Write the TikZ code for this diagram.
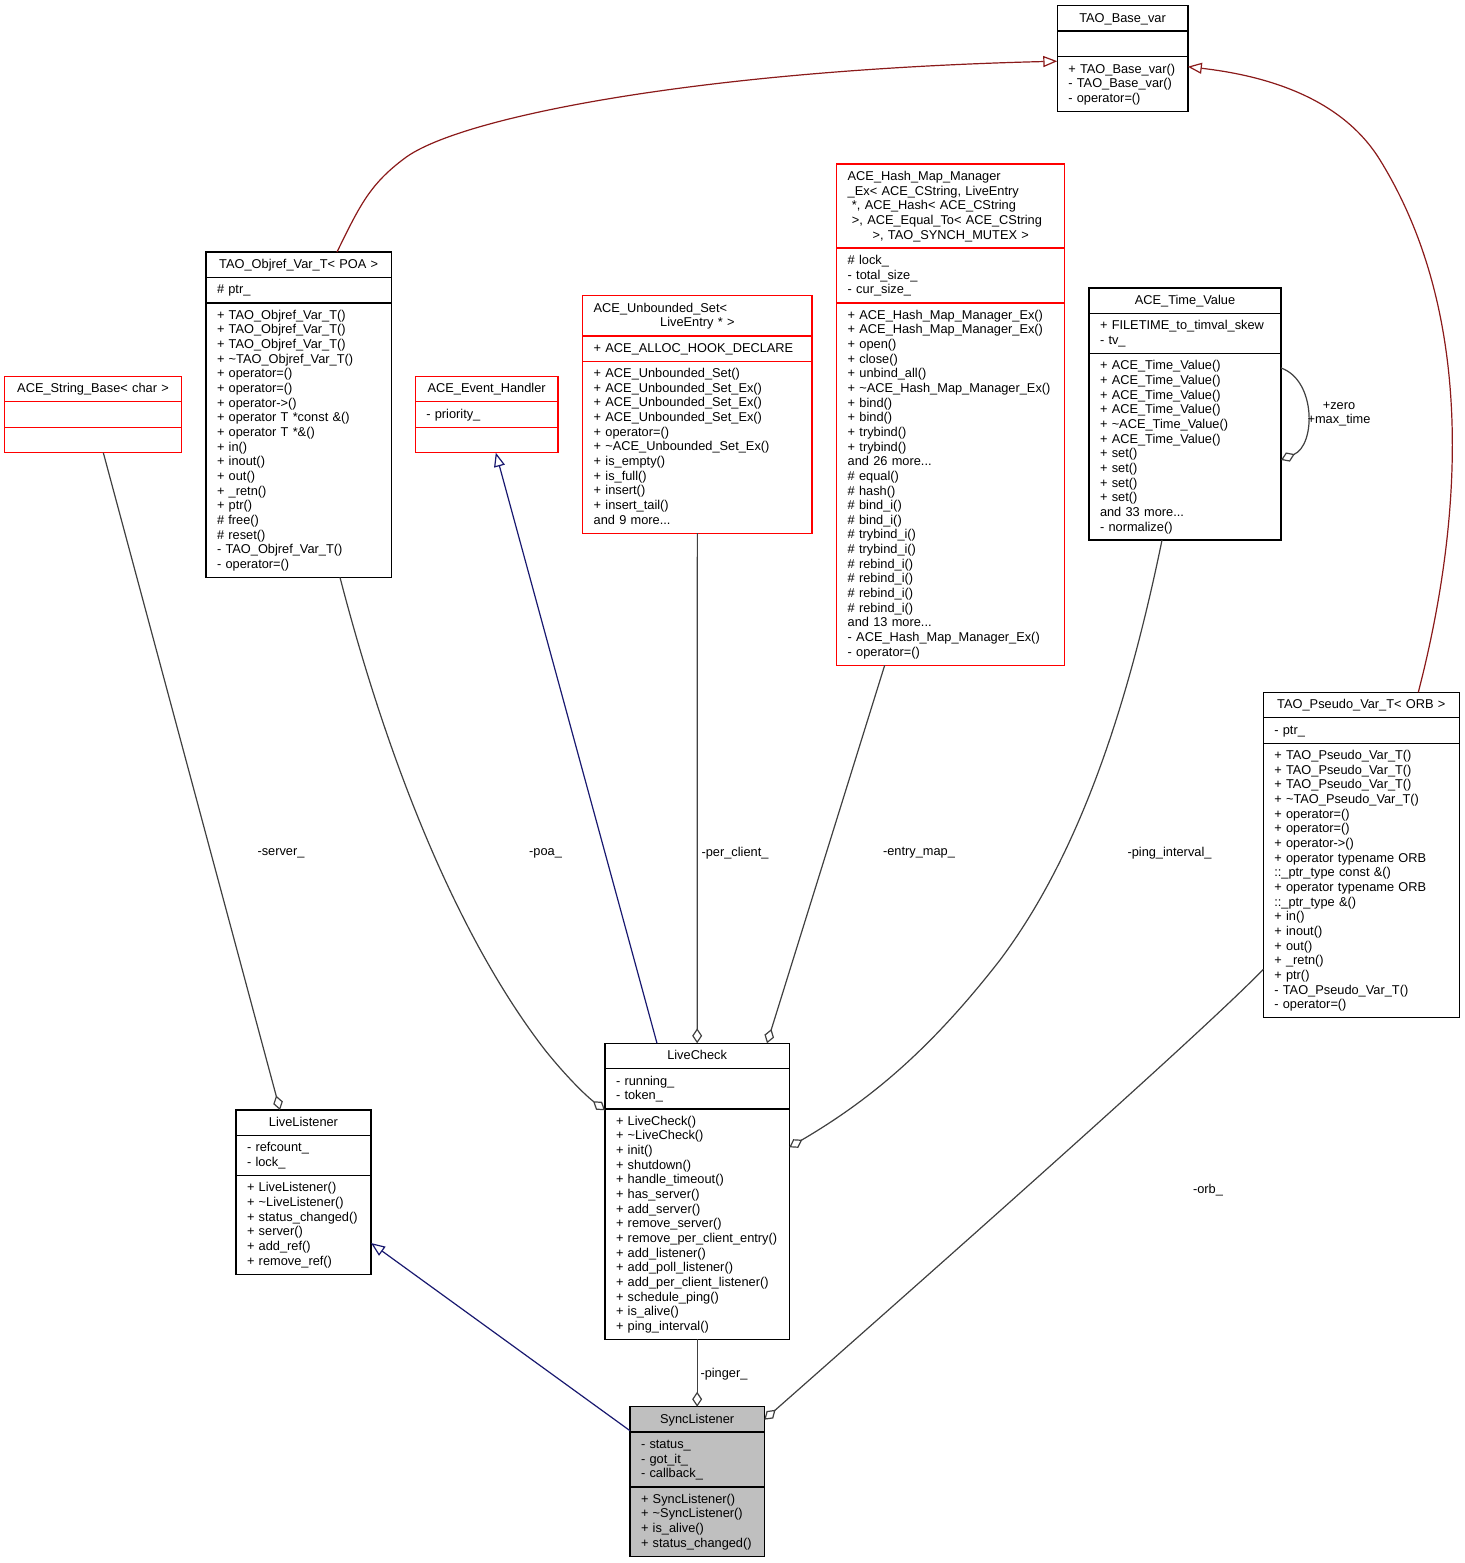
\documentclass[tikz,border=0pt]{standalone}
\usepackage{fontspec}
\setmainfont{Liberation Sans}
\usetikzlibrary{shapes.multipart,arrows.meta,calc}
\definecolor{usegrey}{HTML}{404040}
\definecolor{pubblue}{HTML}{191970}
\definecolor{privred}{HTML}{8B1A1A}
\definecolor{focusgrey}{HTML}{BFBFBF}
% text of the class boxes
\newcommand{\umlfont}{\fontsize{6.4pt}{7.325pt}\selectfont\setbox\strutbox\hbox{\vrule height5.5pt depth1.825pt width0pt}}
\newcommand{\members}[1]{\noindent\begin{tabular}{@{}l@{}}#1\end{tabular}}
\newcommand{\lline}[1]{\makebox[\hsize][l]{\strut#1}}
\newcommand{\tline}[1]{\makebox[\hsize][c]{\strut#1}}
\begin{document}
\begin{tikzpicture}[x=0.5pt,y=-0.5pt,
	umlclass/.style={rectangle split,rectangle split parts=3,draw=black,line width=0.7pt,fill=white,
		anchor=north west,inner xsep=5.5pt,inner ysep=2.35pt,outer sep=0pt,align=left,font=\umlfont},
	redclass/.style={umlclass,draw=red},
	focusclass/.style={umlclass,fill=focusgrey},
	uses/.style={draw=usegrey,line width=0.6pt,-{Diamond[fill=white,length=7.5pt,width=5pt]}},
	pubinh/.style={draw=pubblue,line width=0.6pt,-{Triangle[fill=white,length=7pt,width=5.5pt]}},
	privinh/.style={draw=privred,line width=0.6pt,-{Triangle[fill=white,length=7pt,width=5.5pt]}},
	lbl/.style={font=\umlfont,inner sep=0pt}]
	\useasboundingbox[fill=white] (0,0) rectangle (1464,1563);
	% classes
	\node[umlclass,text width=54.25pt] (base) at (1057.3,5.7) {\tline{TAO\_Base\_var}
		\nodepart{second}\strut
		\nodepart{third}\members{+ TAO\_Base\_var()\\- TAO\_Base\_var()\\- operator=()}};
	\node[umlclass,text width=81.65pt] (objref) at (206,252) {\tline{TAO\_Objref\_Var\_T< POA >}
		\nodepart{second}\members{\# ptr\_}
		\nodepart{third}\members{+ TAO\_Objref\_Var\_T()\\+ TAO\_Objref\_Var\_T()\\+ TAO\_Objref\_Var\_T()\\
			+ \textasciitilde TAO\_Objref\_Var\_T()\\+ operator=()\\+ operator=()\\+ operator->()\\
			+ operator T *const \&()\\+ operator T *\&()\\+ in()\\+ inout()\\+ out()\\+ \_retn()\\+ ptr()\\
			\# free()\\\# reset()\\- TAO\_Objref\_Var\_T()\\- operator=()}};
	\node[redclass,text width=77.7pt] (strbase) at (4.3,376.3) {\tline{ACE\_String\_Base< char >}
		\nodepart{second}\strut
		\nodepart{third}\strut};
	\node[redclass,text width=60.35pt] (evh) at (415.3,376.3) {\tline{ACE\_Event\_Handler}
		\nodepart{second}\members{- priority\_}
		\nodepart{third}\strut};
	\node[redclass,text width=103.65pt] (uset) at (582.7,295.7) {\lline{ACE\_Unbounded\_Set<}\\\tline{LiveEntry * >}
		\nodepart{second}\members{+ ACE\_ALLOC\_HOOK\_DECLARE}
		\nodepart{third}\members{+ ACE\_Unbounded\_Set()\\+ ACE\_Unbounded\_Set\_Ex()\\+ ACE\_Unbounded\_Set\_Ex()\\
			+ ACE\_Unbounded\_Set\_Ex()\\+ operator=()\\+ \textasciitilde ACE\_Unbounded\_Set\_Ex()\\+ is\_empty()\\
			+ is\_full()\\+ insert()\\+ insert\_tail()\\and 9 more...}};
	\node[redclass,text width=103pt] (hmap) at (836.7,164) {\lline{ACE\_Hash\_Map\_Manager}\\
			\lline{\_Ex< ACE\_CString, LiveEntry}\\\lline{\ *, ACE\_Hash< ACE\_CString}\\
			\lline{\ >, ACE\_Equal\_To< ACE\_CString}\\\tline{>, TAO\_SYNCH\_MUTEX >}
		\nodepart{second}\members{\# lock\_\\- total\_size\_\\- cur\_size\_}
		\nodepart{third}\members{+ ACE\_Hash\_Map\_Manager\_Ex()\\+ ACE\_Hash\_Map\_Manager\_Ex()\\+ open()\\+ close()\\
			+ unbind\_all()\\+ \textasciitilde ACE\_Hash\_Map\_Manager\_Ex()\\+ bind()\\+ bind()\\+ trybind()\\+ trybind()\\
			and 26 more...\\\# equal()\\\# hash()\\\# bind\_i()\\\# bind\_i()\\\# trybind\_i()\\\# trybind\_i()\\
			\# rebind\_i()\\\# rebind\_i()\\\# rebind\_i()\\\# rebind\_i()\\and 13 more...\\
			- ACE\_Hash\_Map\_Manager\_Ex()\\- operator=()}};
	\node[umlclass,text width=85pt] (tval) at (1089,288) {\tline{ACE\_Time\_Value}
		\nodepart{second}\members{+ FILETIME\_to\_timval\_skew\\- tv\_}
		\nodepart{third}\members{+ ACE\_Time\_Value()\\+ ACE\_Time\_Value()\\+ ACE\_Time\_Value()\\+ ACE\_Time\_Value()\\
			+ \textasciitilde ACE\_Time\_Value()\\+ ACE\_Time\_Value()\\+ set()\\+ set()\\+ set()\\+ set()\\
			and 33 more...\\- normalize()}};
	\node[umlclass,text width=87pt] (pseudo) at (1263.3,692.3) {\tline{TAO\_Pseudo\_Var\_T< ORB >}
		\nodepart{second}\members{- ptr\_}
		\nodepart{third}\members{+ TAO\_Pseudo\_Var\_T()\\+ TAO\_Pseudo\_Var\_T()\\+ TAO\_Pseudo\_Var\_T()\\
			+ \textasciitilde TAO\_Pseudo\_Var\_T()\\+ operator=()\\+ operator=()\\+ operator->()\\
			+ operator typename ORB\\::\_ptr\_type const \&()\\+ operator typename ORB\\::\_ptr\_type \&()\\
			+ in()\\+ inout()\\+ out()\\+ \_retn()\\+ ptr()\\- TAO\_Pseudo\_Var\_T()\\- operator=()}};
	\node[umlclass,text width=81.15pt] (lcheck) at (605,1043.3) {\tline{LiveCheck}
		\nodepart{second}\members{- running\_\\- token\_}
		\nodepart{third}\members{+ LiveCheck()\\+ \textasciitilde LiveCheck()\\+ init()\\+ shutdown()\\
			+ handle\_timeout()\\+ has\_server()\\+ add\_server()\\+ remove\_server()\\
			+ remove\_per\_client\_entry()\\+ add\_listener()\\+ add\_poll\_listener()\\
			+ add\_per\_client\_listener()\\+ schedule\_ping()\\+ is\_alive()\\+ ping\_interval()}};
	\node[umlclass,text width=56.5pt] (llist) at (236,1110) {\tline{LiveListener}
		\nodepart{second}\members{- refcount\_\\- lock\_}
		\nodepart{third}\members{+ LiveListener()\\+ \textasciitilde LiveListener()\\+ status\_changed()\\
			+ server()\\+ add\_ref()\\+ remove\_ref()}};
	\node[focusclass,text width=56.15pt] (sync) at (630,1406.7) {\tline{SyncListener}
		\nodepart{second}\members{- status\_\\- got\_it\_\\- callback\_}
		\nodepart{third}\members{+ SyncListener()\\+ \textasciitilde SyncListener()\\+ is\_alive()\\
			+ status\_changed()}};
	% inheritance
	\draw[privinh] ($(objref.north west)+(131,0)$) .. controls (360,205) and (370,184) .. (405,158)
		.. controls (460,117) and (700,70) .. ($(base.north west)+(0,55.5)$);
	\draw[privinh] ($(pseudo.north west)+(155,0)$) .. controls (1455,550) and (1485,330) .. (1380,160)
		.. controls (1340,95) and (1260,75) .. ($(base.north east)+(0,61)$);
	\draw[pubinh] ($(lcheck.north west)+(52,0)$) -- ($(evh.south west)+(80.5,0)$);
	\draw[pubinh] ($(sync.north west)+(0,24)$) -- ($(llist.north east)+(0,133)$);
	% members
	\draw[uses] ($(strbase.south west)+(99,0)$) -- ($(llist.north west)+(44,0)$);
	\draw[uses] ($(objref.south west)+(134,0)$) .. controls (390,770) and (460,940) .. (545,1050)
		.. controls (565,1075) and (585,1095) .. ($(lcheck.north west)+(0,67)$);
	\draw[uses] (uset.south) -- (lcheck.north);
	\draw[uses] ($(hmap.south west)+(48,0)$) -- ($(lcheck.north west)+(162,0)$);
	\draw[uses] ($(tval.south west)+(73,0)$) .. controls (1125,720) and (1075,860) .. (1000,960)
		.. controls (930,1050) and (870,1100) .. ($(lcheck.north east)+(0,104)$);
	\draw[uses] ($(tval.north east)+(0,80)$) .. controls (1316,380) and (1316,445) .. ($(tval.north east)+(0,172)$);
	\draw[uses] (lcheck.south) -- (sync.north);
	\draw[uses] ($(pseudo.north west)+(0,277)$) .. controls (1200,1035) and (900,1300) .. ($(sync.north east)+(0,13)$);
	% labels
	\node[lbl] (lserver) at (281,853) {-server\_};
	\node[lbl] (lpoa) at (545.5,853) {-poa\_};
	\node[lbl] (lclient) at (735,853) {-per\_client\_};
	\node[lbl] (lmap) at (919,853) {-entry\_map\_};
	\node[lbl] (linterval) at (1169.5,853) {-ping\_interval\_};
	\node[lbl,align=center] (lzero) at (1339,414) {+zero\\+max\_time};
	\node[lbl] (lorb) at (1208,1190) {-orb\_};
	\node[lbl] (lpinger) at (724,1374) {-pinger\_};
\end{tikzpicture}
\end{document}
